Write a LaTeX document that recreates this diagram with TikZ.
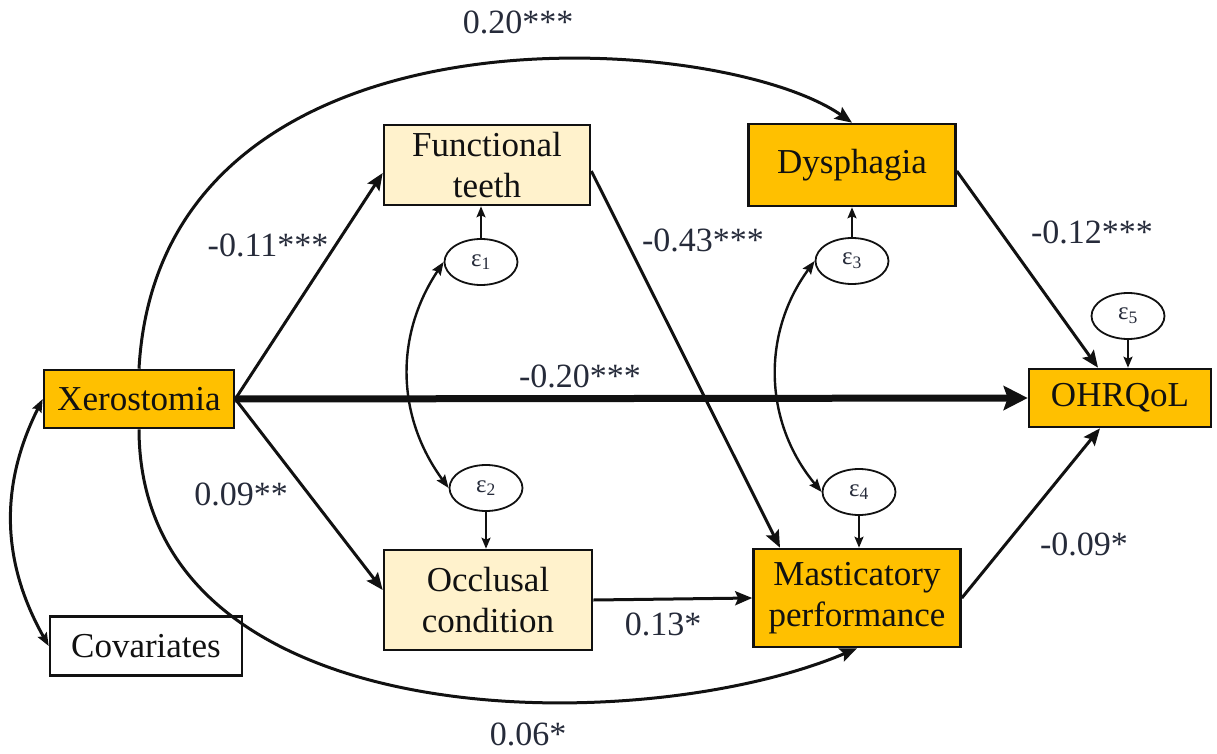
\documentclass[tikz,border=0pt]{standalone}
\usepackage{fontspec}
\setmainfont{Liberation Serif}
\newfontfamily\timesfont{Liberation Serif}
\usepackage{xcolor}
\definecolor{ink}{HTML}{111111}
\definecolor{coefink}{HTML}{262B3A}
\definecolor{gold}{HTML}{FFC000}
\definecolor{cream}{HTML}{FFF2CC}
\usetikzlibrary{arrows.meta, shapes.geometric}
\tikzset{
  >={Stealth[length=17pt, width=14pt, inset=3pt]},
  var/.style={draw=ink, line width=2.6pt, align=center, inner sep=0pt, text=ink,
    font=\timesfont\fontsize{35}{41}\selectfont},
  obs/.style={var, fill=gold},
  med/.style={var, fill=cream},
  plain/.style={var, fill=white},
  err/.style={ellipse, draw=ink, line width=1.8pt, minimum width=73pt, minimum height=46pt,
    inner sep=0pt, text=coefink, font=\timesfont\fontsize{25}{25}\selectfont},
  eff/.style={->, line width=3pt, color=ink},
  coef/.style={font=\timesfont\fontsize{34}{34}\selectfont, text=coefink},
}

\begin{document}
\begin{tikzpicture}[x=1pt, y=-1pt,
    small/.style={-{Stealth[length=11pt, width=9pt, inset=2pt]}, line width=2pt, color=ink},
    corr/.style={{Stealth[length=13pt, width=10pt, inset=2pt]}-{Stealth[length=13pt, width=10pt, inset=2pt]},
      line width=2.4pt, color=ink}]
  \useasboundingbox (0,0) rectangle (1217,754);
  % observed variables
  \node[obs, minimum width=190pt, minimum height=58pt] (xer) at (139,399) {Xerostomia};
  \node[plain, minimum width=192pt, minimum height=59pt] (cov) at (146,646) {Covariates};
  \node[med, minimum width=206pt, minimum height=80pt] (ft) at (487,165) {Functional\\teeth};
  \node[obs, minimum width=207pt, minimum height=82pt] (dys) at (852,165) {Dysphagia};
  \node[med, minimum width=208pt, minimum height=100pt] (occ) at (488,600) {Occlusal\\condition};
  \node[obs, minimum width=207pt, minimum height=98pt] (mp) at (857,598) {Masticatory\\performance};
  \node[obs, minimum width=182pt, minimum height=58pt] (ohr) at (1120,398) {OHRQoL};
  % error terms
  \node[err] (e1) at (481,262) {ε\textsubscript{1}};
  \node[err] (e2) at (486,488) {ε\textsubscript{2}};
  \node[err] (e3) at (852,261) {ε\textsubscript{3}};
  \node[err] (e4) at (859,492) {ε\textsubscript{4}};
  \node[err] (e5) at (1128,316) {ε\textsubscript{5}};
  % direct paths
  \draw[eff] (xer.east) -- ([yshift=-8pt]ft.west);
  \draw[eff] (xer.east) -- ([yshift=10pt]occ.west);
  \draw[eff, line width=7pt, -{Stealth[length=24pt, width=24pt, inset=4pt]}] (xer.east) -- (ohr.west);
  \draw[eff] ([yshift=-6pt]ft.east) -- ([xshift=-77pt]mp.north);
  \draw[eff] (occ.east) -- (mp.west);
  \draw[eff] ([yshift=-6pt]dys.east) -- ([xshift=-22pt]ohr.north);
  \draw[eff] (mp.east) -- ([xshift=-20pt]ohr.south);
  \draw[eff] (xer.north) .. controls (160,-10) and (720,30) .. (dys.north);
  \draw[eff] (xer.south) .. controls (140,740) and (640,740) .. (mp.south);
  % residuals and correlations
  \foreach \e/\v in {e1/ft, e3/dys} \draw[small] (\e.north) -- (\e.north |- \v.south);
  \foreach \e/\v in {e2/occ, e4/mp, e5/ohr} \draw[small] (\e.south) -- (\e.south |- \v.north);
  \draw[corr] (e1.west) to[bend right=35] (e2.west);
  \draw[corr] (e3.west) to[bend right=38] (e4.west);
  \draw[corr, line width=3pt] (xer.west) to[bend right=28] (cov.west);
  % coefficients
  \node[coef] (b-xd) at (518,22) {0.20***};
  \node[coef] (b-xf) at (268,245) {-0.11***};
  \node[coef] (b-fm) at (703,240) {-0.43***};
  \node[coef] (b-do) at (1092,232) {-0.12***};
  \node[coef] (b-xo) at (580,376) {-0.20***};
  \node[coef] (b-xc) at (241,494) {0.09**};
  \node[coef] (b-cm) at (663,624) {0.13*};
  \node[coef] (b-mo) at (1084,544) {-0.09*};
  \node[coef] (b-xm) at (528,734) {0.06*};
\end{tikzpicture}
\end{document}
